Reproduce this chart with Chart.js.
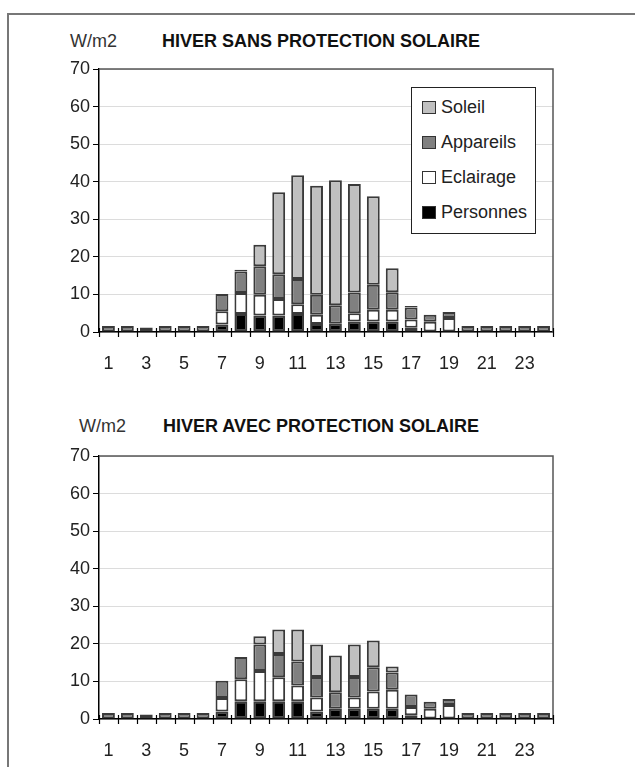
<!DOCTYPE html>
<html>
<head>
<meta charset="utf-8">
<script src="https://cdn.jsdelivr.net/npm/chart.js@4/dist/chart.umd.min.js"></script>
<style>
    body { margin: 0; background: #fff; width: 635px; height: 767px; overflow: hidden; position: relative; font-family: "Liberation Sans", Arial, sans-serif; }
    .frame { position: absolute; left: 7px; top: 13px; width: 700px; height: 800px; border: 2px solid #777; box-sizing: border-box; }
    canvas { position: absolute; left: 0; }
    .unit { position: absolute; font-size: 18px; line-height: 20px; color: #333; }
    .title { position: absolute; font-size: 18px; line-height: 20px; font-weight: bold; color: #111; }
    .legend { position: absolute; left: 411px; top: 87px; width: 125px; height: 147px; border: 1.5px solid #222; background: #fff; box-sizing: border-box; }
    .legend .item { position: absolute; left: 10px; font-size: 18px; line-height: 20px; color: #222; white-space: nowrap; }
    .legend .sw { display: inline-block; width: 12px; height: 11px; border: 1px solid #333; margin-right: 5px; vertical-align: -1px; }
</style>
</head>
<body>
<div class="frame"></div>

<div class="unit" style="left:70px; top:31px;">W/m2</div>
<div class="title" style="left:162px; top:31px;">HIVER SANS PROTECTION SOLAIRE</div>
<canvas id="chart1" width="635" height="383" style="top:0;"></canvas>
<div class="legend" id="legend1"></div>

<div class="unit" style="left:79px; top:416px;">W/m2</div>
<div class="title" style="left:163px; top:416px;">HIVER AVEC PROTECTION SOLAIRE</div>
<canvas id="chart2" width="635" height="384" style="top:383px;"></canvas>

<script>
// Heures de la journée
const hours = ['1','2','3','4','5','6','7','8','9','10','11','12','13','14','15','16','17','18','19','20','21','22','23','24'];

// Hiver sans protection solaire
const personnes1 = [0, 0, 0, 0, 0, 0, 2.0, 4.8, 4.4, 4.4, 4.8, 2.1, 2.2, 2.8, 2.8, 2.8, 1.1, 0, 0, 0, 0, 0, 0, 0];
const eclairage1 = [0, 0, 0, 0, 0, 0, 3.5, 5.6, 5.5, 4.4, 2.6, 2.5, 0, 2.2, 3.1, 3.1, 2.2, 2.7, 3.7, 0, 0, 0, 0, 0];
const appareils1 = [1.6, 1.6, 1.2, 1.6, 1.6, 1.6, 4.6, 5.7, 7.6, 6.6, 6.7, 5.3, 4.9, 5.5, 6.7, 4.7, 3.2, 1.9, 1.6, 1.6, 1.6, 1.6, 1.6, 1.6];
const soleil1    = [0, 0, 0, 0, 0, 0, 0, 0.5, 5.7, 21.8, 27.6, 29.0, 33.3, 28.9, 23.5, 6.4, 0.4, 0, 0, 0, 0, 0, 0, 0];

// Hiver avec protection solaire
const personnes2 = [0, 0, 0, 0, 0, 0, 2.0, 4.7, 4.7, 4.7, 4.7, 2.0, 2.7, 2.7, 2.7, 2.7, 1.0, 0, 0, 0, 0, 0, 0, 0];
const eclairage2 = [0, 0, 0, 0, 0, 0, 3.6, 5.9, 8.1, 6.4, 4.2, 3.7, 0, 3.0, 4.6, 5.1, 2.2, 2.7, 3.7, 0, 0, 0, 0, 0];
const appareils2 = [1.6, 1.6, 1.2, 1.6, 1.6, 1.6, 4.6, 5.9, 7.0, 6.2, 6.4, 5.5, 4.4, 5.5, 6.5, 4.6, 3.3, 1.9, 1.6, 1.6, 1.6, 1.6, 1.6, 1.6];
const soleil2    = [0, 0, 0, 0, 0, 0, 0, 0, 2.2, 6.5, 8.5, 8.6, 9.8, 8.6, 7.1, 1.6, 0, 0, 0, 0, 0, 0, 0, 0];

const yTicks = [0, 10, 20, 30, 40, 50, 60, 70];

// Séries (de bas en haut de la pile)
const seriesNames = ['Personnes', 'Eclairage', 'Appareils', 'Soleil'];
const seriesColors = ['#000000', '#ffffff', '#808080', '#c0c0c0'];

Chart.defaults.font.family = '"Liberation Sans", Arial, sans-serif';
Chart.defaults.font.size = 18;
Chart.defaults.color = '#222';

// Cadre du graphique et petites graduations de l'axe X
const framePlugin = {
    id: 'frame',
    afterDraw(chart) {
        const ctx = chart.ctx;
        const a = chart.chartArea;
        const xs = chart.scales.x;
        ctx.save();
        ctx.strokeStyle = '#555';
        ctx.lineWidth = 1.5;
        ctx.beginPath();
        ctx.moveTo(a.left, a.top);
        ctx.lineTo(a.right, a.top);
        ctx.lineTo(a.right, a.bottom);
        ctx.stroke();

        ctx.strokeStyle = '#000';
        ctx.lineWidth = 1.2;
        const w = (xs.right - xs.left) / hours.length;
        ctx.beginPath();
        for (let k = 0; k <= hours.length; k++) {
            const x = Math.round(xs.left + k * w) + 0.5;
            ctx.moveTo(x, a.bottom - 4);
            ctx.lineTo(x, a.bottom + 5);
        }
        ctx.stroke();
        ctx.restore();
    }
};

function makeChart(id, series, padTop, xHeight) {
    const ctx = document.getElementById(id).getContext('2d');
    const datasets = series.map((data, i) => ({
        label: seriesNames[i],
        data: data,
        backgroundColor: seriesColors[i],
        borderColor: '#3a3a3a',
        borderWidth: 2,
        borderSkipped: false,
        barPercentage: 0.68,
        categoryPercentage: 1.0
    }));

    return new Chart(ctx, {
        type: 'bar',
        data: { labels: hours, datasets: datasets },
        options: {
            responsive: false,
            animation: false,
            layout: { padding: { left: 59, right: 82, top: padTop, bottom: 0 } },
            plugins: {
                legend: { display: false },
                tooltip: { enabled: false }
            },
            scales: {
                x: {
                    stacked: true,
                    grid: { display: false },
                    border: { display: true, color: '#000', width: 1.5 },
                    ticks: {
                        autoSkip: false,
                        maxRotation: 0,
                        padding: 13,
                        callback: function(val, i) {
                            return i % 2 === 0 ? hours[i] : '';
                        }
                    },
                    afterFit: function(scale) { scale.height = xHeight; }
                },
                y: {
                    stacked: true,
                    min: yTicks[0],
                    max: yTicks[yTicks.length - 1],
                    grid: { color: '#dcdcdc', lineWidth: 1, tickColor: '#000', tickLength: 6 },
                    border: { display: true, color: '#000', width: 1.5 },
                    afterBuildTicks: function(scale) {
                        scale.ticks = yTicks.map(v => ({ value: v }));
                    },
                    ticks: { padding: 3 },
                    afterFit: function(scale) { scale.width = 40; }
                }
            }
        },
        plugins: [framePlugin]
    });
}

// Légende (ordre inverse de la pile)
function buildLegend(el) {
    const order = [3, 2, 1, 0];
    order.forEach((s, n) => {
        const item = document.createElement('div');
        item.className = 'item';
        item.style.top = (9 + n * 34.9) + 'px';
        item.innerHTML = '<span class="sw" style="background:' + seriesColors[s] + '"></span>' + seriesNames[s];
        el.appendChild(item);
    });
}

document.addEventListener('DOMContentLoaded', function() {
    makeChart('chart1', [personnes1, eclairage1, appareils1, soleil1], 69, 51);
    makeChart('chart2', [personnes2, eclairage2, appareils2, soleil2], 73, 48);
    buildLegend(document.getElementById('legend1'));
});
</script>
</body>
</html>
